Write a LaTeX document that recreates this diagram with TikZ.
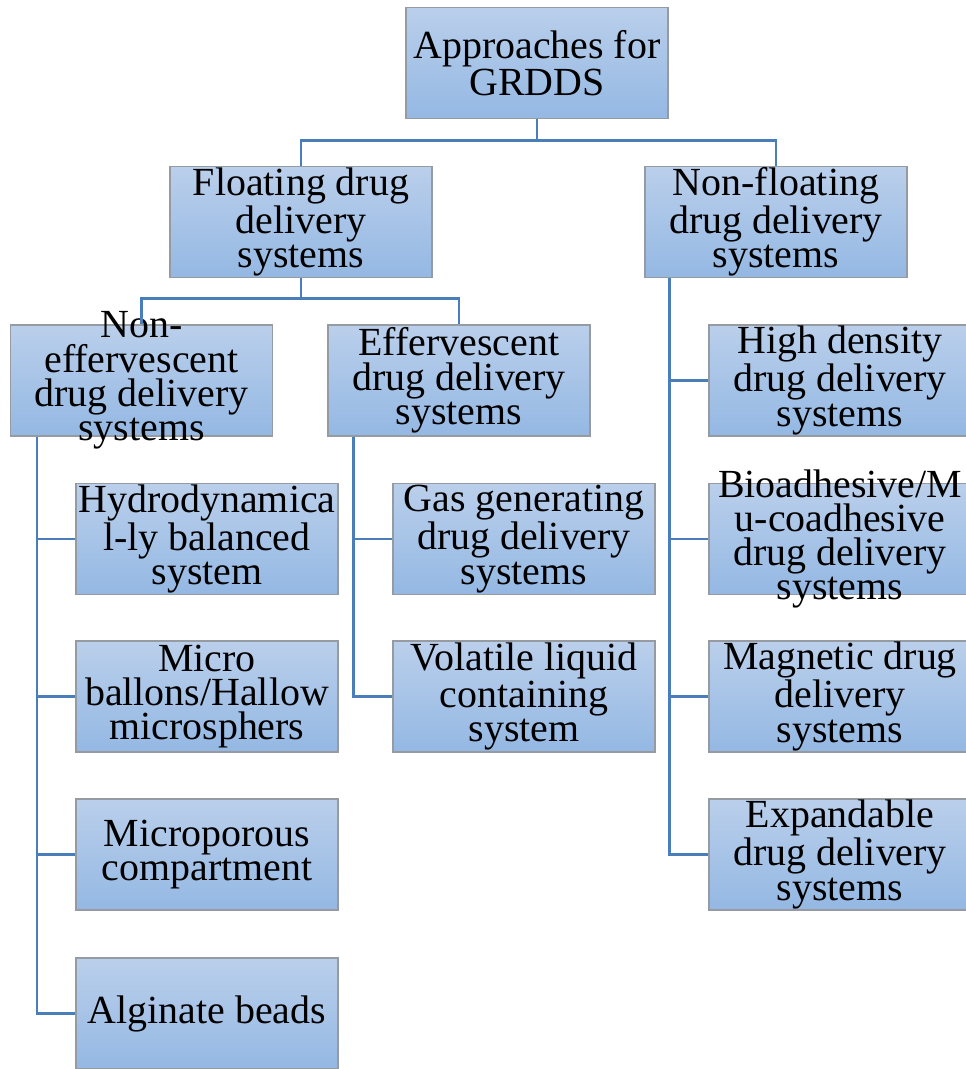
\documentclass[tikz,border=0pt]{standalone}
\usepackage{fontspec}
\setmainfont{Liberation Serif}
\usepackage{tikz}
\usetikzlibrary{positioning}
\definecolor{ctop}  {RGB}{186,207,235}
\definecolor{cbot}  {RGB}{148,184,227}
\definecolor{cedge} {RGB}{150,155,162}
\definecolor{cline} {RGB}{74,126,187}
\tikzset{
  box/.style={rectangle, draw=cedge, line width=0.6pt,
              top color=ctop, bottom color=cbot,
              font=\fontsize{22.7}{19.5}\selectfont, align=center,
              minimum width=5.24cm, minimum height=2.22cm,
              inner xsep=0pt, inner ysep=-1cm},
  conn/.style={draw=cline, line width=1.4pt},
}
\begin{document}
\begin{tikzpicture}
  \useasboundingbox (0,0) rectangle (19.32,-21.38);
  \clip (0,0) rectangle (19.32,-21.38);
  % ── Nodes ──────────────────────────────────────────────────────────────────
  \node[box] at (10.74,-1.26)  (root)     {Approaches for\\GRDDS};
  \node[box] at (6.02, -4.44)  (float)    {Floating drug\\delivery\\systems};
  \node[box] at (15.52,-4.44)  (nonfloat) {Non-floating\\drug delivery\\systems};
  \node[box] at (2.83, -7.61)  (noneff)   {Non-\\effervescent\\drug delivery\\systems};
  \node[box] at (9.18, -7.61)  (eff)      {Effervescent\\drug delivery\\systems};

  \node[box] at (4.14,-10.78)  (hydro)    {Hydrodynamica\\l-ly balanced\\system};
  \node[box] at (4.14,-13.93)  (micro)    {Micro\\ballons/Hallow\\microsphers};
  \node[box] at (4.14,-17.09)  (porous)   {Microporous\\compartment};
  \node[box] at (4.14,-20.27)  (algin)    {Alginate beads};

  \node[box] at (10.48,-10.78) (gas)      {Gas generating\\drug delivery\\systems};
  \node[box] at (10.48,-13.93) (volat)    {Volatile liquid\\containing\\system};

  \node[box] at (16.80,-7.61)  (dense)    {High density\\drug delivery\\systems};
  \node[box] at (16.80,-10.78) (bioad)    {Bioadhesive/M\\u-coadhesive\\drug delivery\\systems};
  \node[box] at (16.80,-13.93) (magnet)   {Magnetic drug\\delivery\\systems};
  \node[box] at (16.80,-17.09) (expand)   {Expandable\\drug delivery\\systems};

  % ── Connectors ─────────────────────────────────────────────────────────────
  \draw[conn] (root.south)  -- ++(0,-0.43) -| (float.north);
  \draw[conn] (root.south)  -- ++(0,-0.43) -| (nonfloat.north);
  \draw[conn] (float.south) -- ++(0,-0.41) -| (noneff.north);
  \draw[conn] (float.south) -- ++(0,-0.41) -| (eff.north);
  \foreach \c in {hydro, micro, porous, algin}
    \draw[conn] (noneff.south west) ++(0.54,0) |- (\c.west);
  \foreach \c in {gas, volat}
    \draw[conn] (eff.south west) ++(0.52,0) |- (\c.west);
  \foreach \c in {dense, bioad, magnet, expand}
    \draw[conn] (nonfloat.south west) ++(0.50,0) |- (\c.west);
\end{tikzpicture}
\end{document}
